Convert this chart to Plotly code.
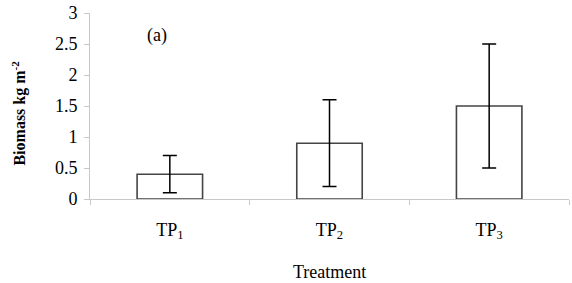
import plotly.graph_objects as go

categories = ["TP<sub>1</sub>", "TP<sub>2</sub>", "TP<sub>3</sub>"]
biomass = [0.4, 0.9, 1.5]
err = [0.3, 0.7, 1.0]
y_ticks = [0, 0.5, 1, 1.5, 2, 2.5, 3]
y_tick_text = ["0", "0.5", "1", "1.5", "2", "2.5", "3"]

font = "Liberation Serif, Times New Roman, serif"

fig = go.Figure(go.Bar(
    x=categories, y=biomass, width=0.41,
    marker=dict(color="white", line=dict(color="#444444", width=1.6)),
    error_y=dict(type="data", array=err, visible=True, color="black", thickness=1.5, width=7),
))

fig.update_layout(
    width=572, height=283,
    margin=dict(l=90, r=3, t=10, b=84),
    plot_bgcolor="white", paper_bgcolor="white",
    showlegend=False,
    font=dict(family=font, size=18, color="black"),
    xaxis=dict(
        type="category", showline=True, linecolor="#c8c8c8", linewidth=1,
        ticks="outside", tickson="boundaries", ticklen=5, tickcolor="#c8c8c8",
        showgrid=False, ticklabelstandoff=14, tickfont=dict(size=18),
    ),
    yaxis=dict(
        range=[0, 3], tickvals=y_ticks, ticktext=y_tick_text,
        showline=True, linecolor="#c8c8c8", linewidth=1,
        ticks="outside", ticklen=5, tickcolor="#c8c8c8",
        showgrid=False, zeroline=False, tickfont=dict(size=18),
        ticklabelstandoff=3,
    ),
    annotations=[
        dict(text="(a)", xref="paper", yref="paper", x=0.115, y=0.878,
             showarrow=False, font=dict(size=18), yanchor="middle"),
        dict(text="Treatment", xref="paper", yref="paper", x=0.5, y=-0.39,
             showarrow=False, font=dict(size=18), yanchor="middle"),
        dict(text="<b>Biomass kg m<sup>-2</sup></b>", xref="paper", yref="paper",
             x=-0.148, y=0.46, textangle=-90, showarrow=False, font=dict(size=16),
             xanchor="center", yanchor="middle"),
    ],
)

fig.write_html("out.html", config={"displayModeBar": False},
               post_script="document.body.style.margin='0';")
